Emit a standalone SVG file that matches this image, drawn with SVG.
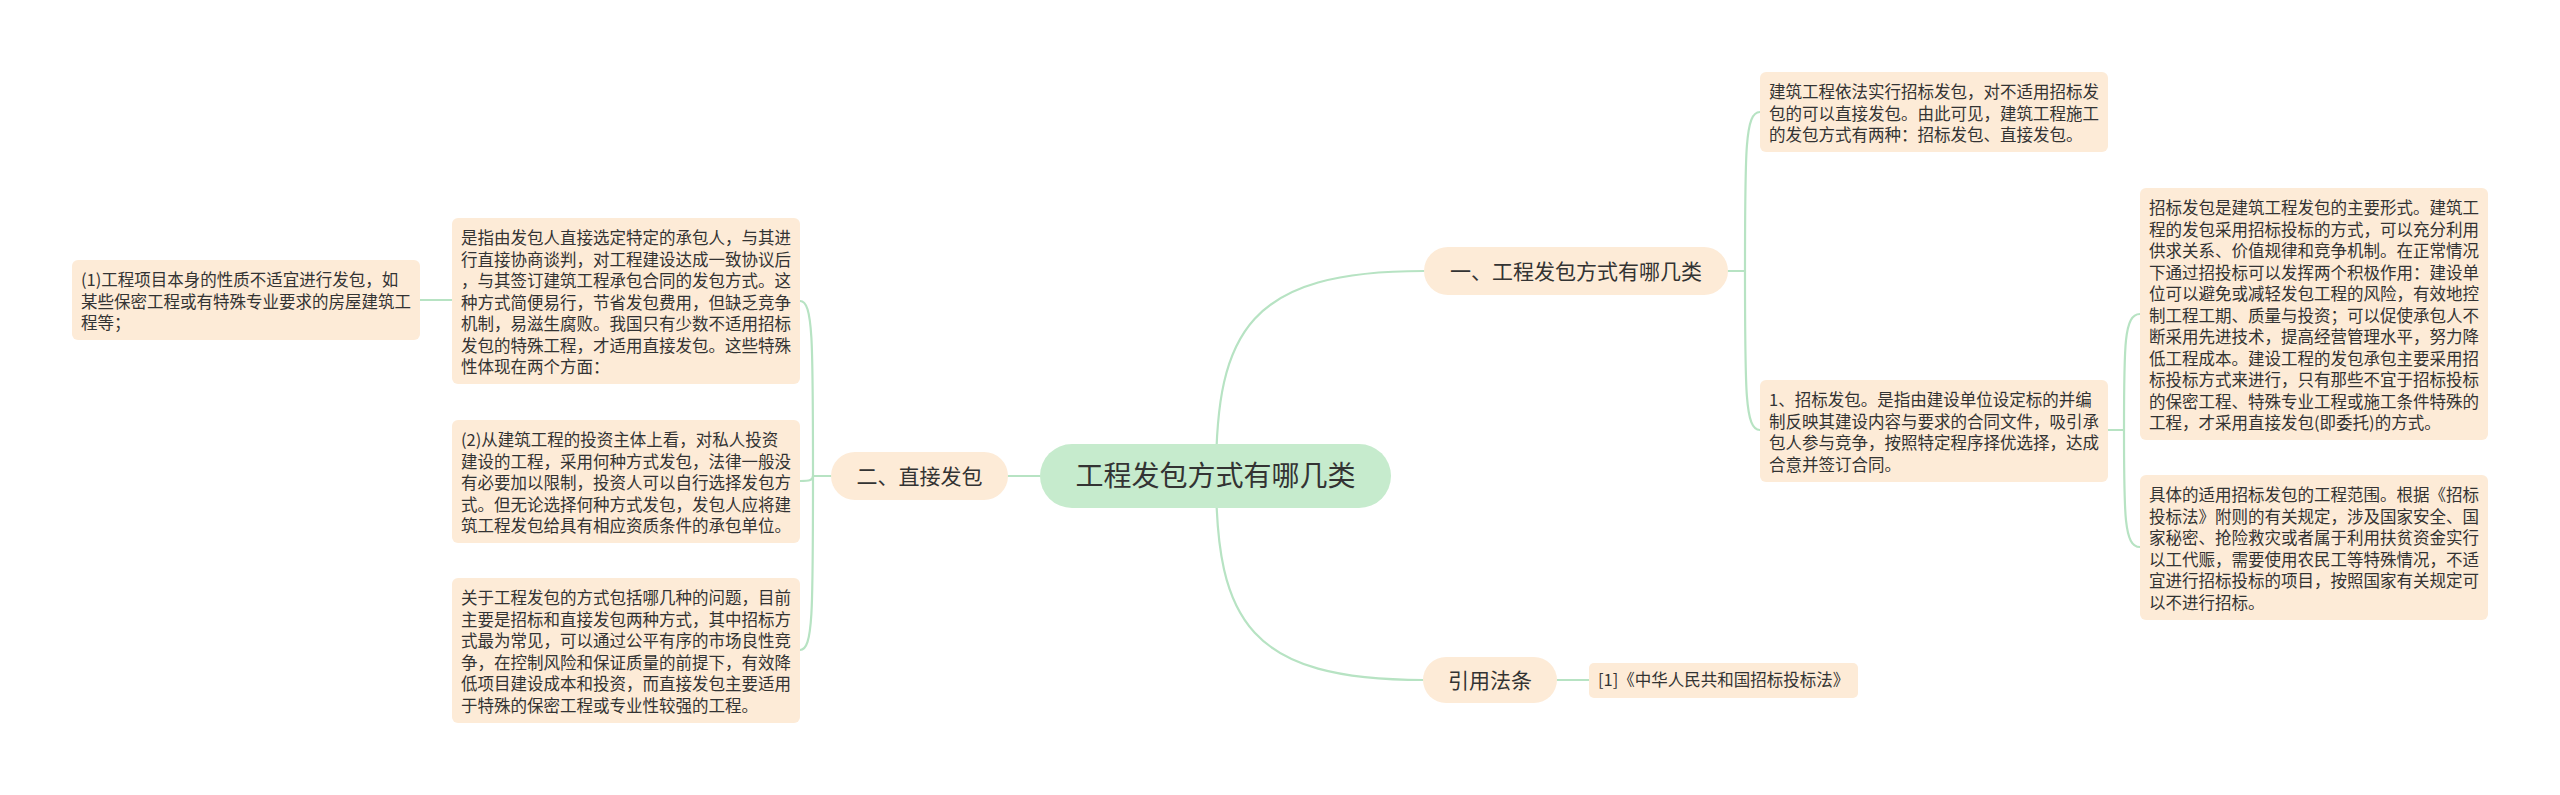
<svg xmlns="http://www.w3.org/2000/svg" width="2560" height="795" viewBox="0 0 2560 795">
<style>
.bg{fill:#ffffff}
.leaf{fill:#fdebd7}
.branch{fill:#fdebd7}
.root{fill:#c6ebcd}
.t{font-family:"Noto Sans CJK SC","Noto Sans",sans-serif;fill:#333333}
.tx{font-size:16.5px}
.tb{font-size:21px;text-anchor:middle}
.tr{font-size:28px;text-anchor:middle}
.c{fill:none;stroke:#b7e3c3;stroke-width:2.2;stroke-linecap:round}
</style>
<rect class="bg" x="0" y="0" width="2560" height="795"/>
<g id="connectors">
<path class="c" d="M1216,476 C1216,330 1250,271 1424,271"/>
<path class="c" d="M1216,476 C1216,622 1250,680 1424,680"/>
<path class="c" d="M1040,476 L1008,476"/>
<path class="c" d="M831,476 L813,476"/>
<path class="c" d="M813,476 C813,340 813,301 800,301"/>
<path class="c" d="M813,476 C813,480 810,481 800,481"/>
<path class="c" d="M813,476 C813,612 813,650 800,650"/>
<path class="c" d="M452,300 L420,300"/>
<path class="c" d="M1728,271 L1745,271"/>
<path class="c" d="M1745,271 C1745,150 1745,112 1760,112"/>
<path class="c" d="M1745,271 C1745,392 1745,430 1760,430"/>
<path class="c" d="M2108,430 L2124,430"/>
<path class="c" d="M2124,430 C2124,345 2124,314 2140,314"/>
<path class="c" d="M2124,430 C2124,515 2124,547 2140,547"/>
<path class="c" d="M1557,680 L1589,680"/>
</g>
<g id="root">
<rect class="root" x="1040" y="444" width="351" height="64" rx="32"/>
<text class="t tr" x="1215.5" y="486">工程发包方式有哪几类</text>
</g>
<g id="branch1">
<rect class="branch" x="1424" y="247" width="304" height="48" rx="24"/>
<text class="t tb" x="1576" y="278.5">一、工程发包方式有哪几类</text>
</g>
<g id="branch2">
<rect class="branch" x="831" y="452" width="177" height="48" rx="24"/>
<text class="t tb" x="919.5" y="483.5">二、直接发包</text>
</g>
<g id="branch3">
<rect class="branch" x="1423" y="657" width="134" height="46" rx="23"/>
<text class="t tb" x="1490" y="687.5">引用法条</text>
</g>
<g id="ref1">
<rect class="leaf" x="1589" y="663" width="269" height="35" rx="5"/>
<text class="t tx" x="1598" y="686">[1]《中华人民共和国招标投标法》</text>
</g>
<g id="nodeA1">
<rect class="leaf" x="72" y="260" width="348" height="80" rx="6"/>
<text class="t tx" x="81" y="286"><tspan x="81">(1)工程项目本身的性质不适宜进行发包，如</tspan><tspan x="81" dy="21.5">某些保密工程或有特殊专业要求的房屋建筑工</tspan><tspan x="81" dy="21.5">程等；</tspan></text>
</g>
<g id="nodeB">
<rect class="leaf" x="452" y="218" width="348" height="166" rx="6"/>
<text class="t tx" x="461" y="244"><tspan x="461">是指由发包人直接选定特定的承包人，与其进</tspan><tspan x="461" dy="21.5">行直接协商谈判，对工程建设达成一致协议后</tspan><tspan x="461" dy="21.5">，与其签订建筑工程承包合同的发包方式。这</tspan><tspan x="461" dy="21.5">种方式简便易行，节省发包费用，但缺乏竞争</tspan><tspan x="461" dy="21.5">机制，易滋生腐败。我国只有少数不适用招标</tspan><tspan x="461" dy="21.5">发包的特殊工程，才适用直接发包。这些特殊</tspan><tspan x="461" dy="21.5">性体现在两个方面：</tspan></text>
</g>
<g id="nodeC">
<rect class="leaf" x="452" y="420" width="348" height="123" rx="6"/>
<text class="t tx" x="461" y="446"><tspan x="461">(2)从建筑工程的投资主体上看，对私人投资</tspan><tspan x="461" dy="21.5">建设的工程，采用何种方式发包，法律一般没</tspan><tspan x="461" dy="21.5">有必要加以限制，投资人可以自行选择发包方</tspan><tspan x="461" dy="21.5">式。但无论选择何种方式发包，发包人应将建</tspan><tspan x="461" dy="21.5">筑工程发包给具有相应资质条件的承包单位。</tspan></text>
</g>
<g id="nodeD">
<rect class="leaf" x="452" y="578" width="348" height="145" rx="6"/>
<text class="t tx" x="461" y="604"><tspan x="461">关于工程发包的方式包括哪几种的问题，目前</tspan><tspan x="461" dy="21.5">主要是招标和直接发包两种方式，其中招标方</tspan><tspan x="461" dy="21.5">式最为常见，可以通过公平有序的市场良性竞</tspan><tspan x="461" dy="21.5">争，在控制风险和保证质量的前提下，有效降</tspan><tspan x="461" dy="21.5">低项目建设成本和投资，而直接发包主要适用</tspan><tspan x="461" dy="21.5">于特殊的保密工程或专业性较强的工程。</tspan></text>
</g>
<g id="nodeE">
<rect class="leaf" x="1760" y="72" width="348" height="80" rx="6"/>
<text class="t tx" x="1769" y="98"><tspan x="1769">建筑工程依法实行招标发包，对不适用招标发</tspan><tspan x="1769" dy="21.5">包的可以直接发包。由此可见，建筑工程施工</tspan><tspan x="1769" dy="21.5">的发包方式有两种：招标发包、直接发包。</tspan></text>
</g>
<g id="nodeF">
<rect class="leaf" x="1760" y="380" width="348" height="102" rx="6"/>
<text class="t tx" x="1769" y="406"><tspan x="1769">1、招标发包。是指由建设单位设定标的并编</tspan><tspan x="1769" dy="21.5">制反映其建设内容与要求的合同文件，吸引承</tspan><tspan x="1769" dy="21.5">包人参与竞争，按照特定程序择优选择，达成</tspan><tspan x="1769" dy="21.5">合意并签订合同。</tspan></text>
</g>
<g id="nodeG">
<rect class="leaf" x="2140" y="188" width="348" height="252" rx="6"/>
<text class="t tx" x="2149" y="214"><tspan x="2149">招标发包是建筑工程发包的主要形式。建筑工</tspan><tspan x="2149" dy="21.5">程的发包采用招标投标的方式，可以充分利用</tspan><tspan x="2149" dy="21.5">供求关系、价值规律和竞争机制。在正常情况</tspan><tspan x="2149" dy="21.5">下通过招投标可以发挥两个积极作用：建设单</tspan><tspan x="2149" dy="21.5">位可以避免或减轻发包工程的风险，有效地控</tspan><tspan x="2149" dy="21.5">制工程工期、质量与投资；可以促使承包人不</tspan><tspan x="2149" dy="21.5">断采用先进技术，提高经营管理水平，努力降</tspan><tspan x="2149" dy="21.5">低工程成本。建设工程的发包承包主要采用招</tspan><tspan x="2149" dy="21.5">标投标方式来进行，只有那些不宜于招标投标</tspan><tspan x="2149" dy="21.5">的保密工程、特殊专业工程或施工条件特殊的</tspan><tspan x="2149" dy="21.5">工程，才采用直接发包(即委托)的方式。</tspan></text>
</g>
<g id="nodeH">
<rect class="leaf" x="2140" y="475" width="348" height="145" rx="6"/>
<text class="t tx" x="2149" y="501"><tspan x="2149">具体的适用招标发包的工程范围。根据《招标</tspan><tspan x="2149" dy="21.5">投标法》附则的有关规定，涉及国家安全、国</tspan><tspan x="2149" dy="21.5">家秘密、抢险救灾或者属于利用扶贫资金实行</tspan><tspan x="2149" dy="21.5">以工代赈，需要使用农民工等特殊情况，不适</tspan><tspan x="2149" dy="21.5">宜进行招标投标的项目，按照国家有关规定可</tspan><tspan x="2149" dy="21.5">以不进行招标。</tspan></text>
</g>
</svg>
